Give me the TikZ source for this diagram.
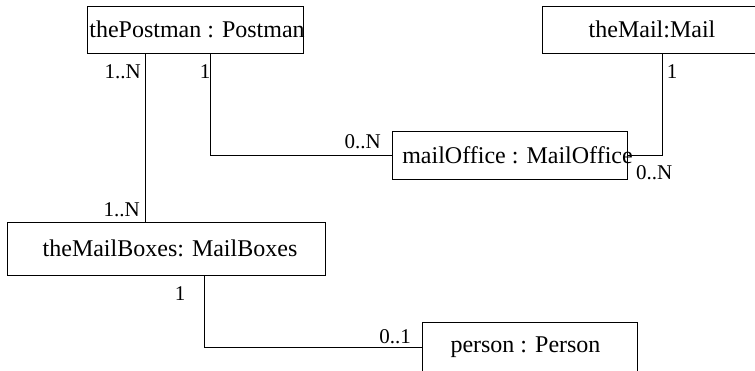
\documentclass[tikz,border=0pt]{standalone}
\usepackage{fontspec}
\setmainfont{Liberation Serif}
\begin{document}
\begin{tikzpicture}[x=1pt,y=-1pt,
  box/.style={draw,line width=1pt,inner sep=0pt,font=\fontsize{24}{28}\selectfont},
  mult/.style={inner sep=0pt,font=\fontsize{21}{24}\selectfont},
  conn/.style={line width=1pt}]
\useasboundingbox (0,0) rectangle (755,370);
\clip (0,0) rectangle (755,370);
\fill[white] (0,0) rectangle (755,370);
\node[box,minimum width=216pt,minimum height=47pt] (postman) at (195,29.5) {\makebox[0pt]{\hspace{4pt}thePostman : Postman}};
\node[box,minimum width=220pt,minimum height=47pt] (mail) at (652,29.5) {theMail:Mail};
\node[box,minimum width=235pt,minimum height=48pt] (office) at (509.5,155) {\makebox[0pt]{\hspace{16pt}mailOffice : MailOffice}};
\node[box,minimum width=318pt,minimum height=53pt] (boxes) at (166,248.5) {\makebox[0pt]{\hspace{8pt}theMailBoxes: MailBoxes}};
\node[box,minimum width=215pt,minimum height=50pt] (person) at (529.5,347) {\makebox[0pt]{\hspace{-8pt}person : Person}};
\draw[conn] ([xshift=59pt]postman.south west) coordinate (pa) -- (pa |- boxes.north);
\draw[conn] ([xshift=124pt]postman.south west) |- (office.west);
\draw[conn] ([xshift=121pt]mail.south west) |- (office.east);
\draw[conn] ([xshift=198pt]boxes.south west) |- (person.west);
\node[mult,anchor=east] (l1) at (141,72) {1..N};
\node[mult] (l2) at (205,72) {1};
\node[mult] (l3) at (672,72) {1};
\node[mult,anchor=east] (l4) at (381,142) {0..N};
\node[mult,anchor=west] (l5) at (636,173) {0..N};
\node[mult,anchor=east] (l6) at (140,210) {1..N};
\node[mult] (l7) at (180,294) {1};
\node[mult,anchor=east] (l8) at (411,337) {0..1};
\end{tikzpicture}
\end{document}
